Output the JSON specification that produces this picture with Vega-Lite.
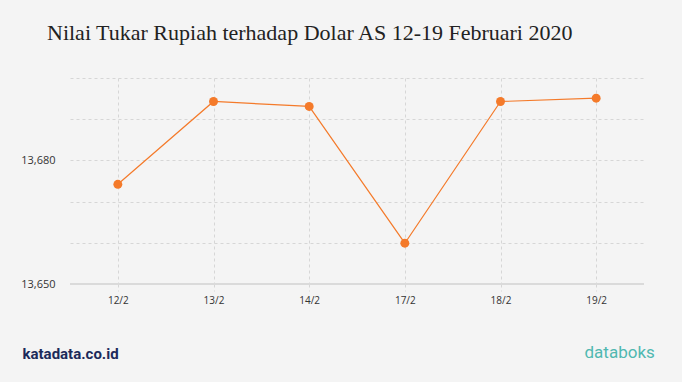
{
  "$schema": "https://vega.github.io/schema/vega-lite/v6.json",
  "width": 574,
  "height": 206,
  "autosize": {"type": "none"},
  "padding": {"left": 70, "top": 78, "right": 38, "bottom": 98},
  "background": "#f4f4f4",
  "title": {
    "text": "Nilai Tukar Rupiah terhadap Dolar AS 12-19 Februari 2020",
    "anchor": "start",
    "frame": "group",
    "dx": -23,
    "offset": 33,
    "font": "Liberation Serif",
    "fontSize": 22,
    "fontWeight": "normal",
    "color": "#222222"
  },
  "data": {
    "values": [
      {"tanggal": "12/2", "kurs": 13674.2},
      {"tanggal": "13/2", "kurs": 13694.3},
      {"tanggal": "14/2", "kurs": 13693.1},
      {"tanggal": "17/2", "kurs": 13659.9},
      {"tanggal": "18/2", "kurs": 13694.3},
      {"tanggal": "19/2", "kurs": 13695.1}
    ]
  },
  "config": {
    "view": {"stroke": null},
    "axis": {
      "labelFont": "Open Sans",
      "labelFontSize": 11,
      "labelColor": "#333333",
      "gridColor": "#d6d6d6",
      "gridDash": [3, 3],
      "gridWidth": 1
    }
  },
  "layer": [
    {
      "mark": {"type": "line", "color": "#f47a2a", "strokeWidth": 1.2},
      "encoding": {
        "x": {
          "field": "tanggal",
          "type": "ordinal",
          "sort": null,
          "scale": {"type": "point", "padding": 0.5},
          "axis": {
            "title": "katadata.co.id",
            "titleAnchor": "start",
            "titleAngle": 0,
            "titleX": -48,
            "titleY": 62,
            "titleFont": "Roboto",
            "titleFontSize": 15,
            "titleFontWeight": "bold",
            "titleColor": "#1c2a5a",
            "labelAngle": 0,
            "labelPadding": 4,
            "labelFontSize": 10,
            "grid": true,
            "domain": false,
            "ticks": true,
            "tickColor": "#d6d6d6",
            "tickDash": [3, 3],
            "tickSize": 7
          }
        },
        "y": {
          "field": "kurs",
          "type": "quantitative",
          "scale": {"domain": [13650, 13700], "nice": false, "zero": false},
          "axis": {
            "title": "databoks",
            "titleAngle": 0,
            "titleAnchor": "start",
            "titleX": 514,
            "titleY": 274,
            "titleAlign": "left",
            "titleBaseline": "middle",
            "titleFont": "Roboto",
            "titleFontSize": 17,
            "titleFontWeight": "normal",
            "titleColor": "#4fb8b0",
            "values": [13650, 13660, 13670, 13680, 13690, 13700],
            "labelExpr": "datum.value == 13650 || datum.value == 13680 ? format(datum.value, ',') : ''",
            "labelPadding": 15,
            "grid": true,
            "domain": false,
            "ticks": false
          }
        }
      }
    },
    {
      "mark": {"type": "rule", "color": "#dadada", "strokeWidth": 2},
      "encoding": {"y": {"datum": 13650}}
    },
    {
      "mark": {"type": "point", "filled": true, "color": "#f47a2a", "size": 80, "opacity": 1},
      "encoding": {
        "x": {"field": "tanggal", "type": "ordinal", "sort": null},
        "y": {"field": "kurs", "type": "quantitative"}
      }
    }
  ]
}
